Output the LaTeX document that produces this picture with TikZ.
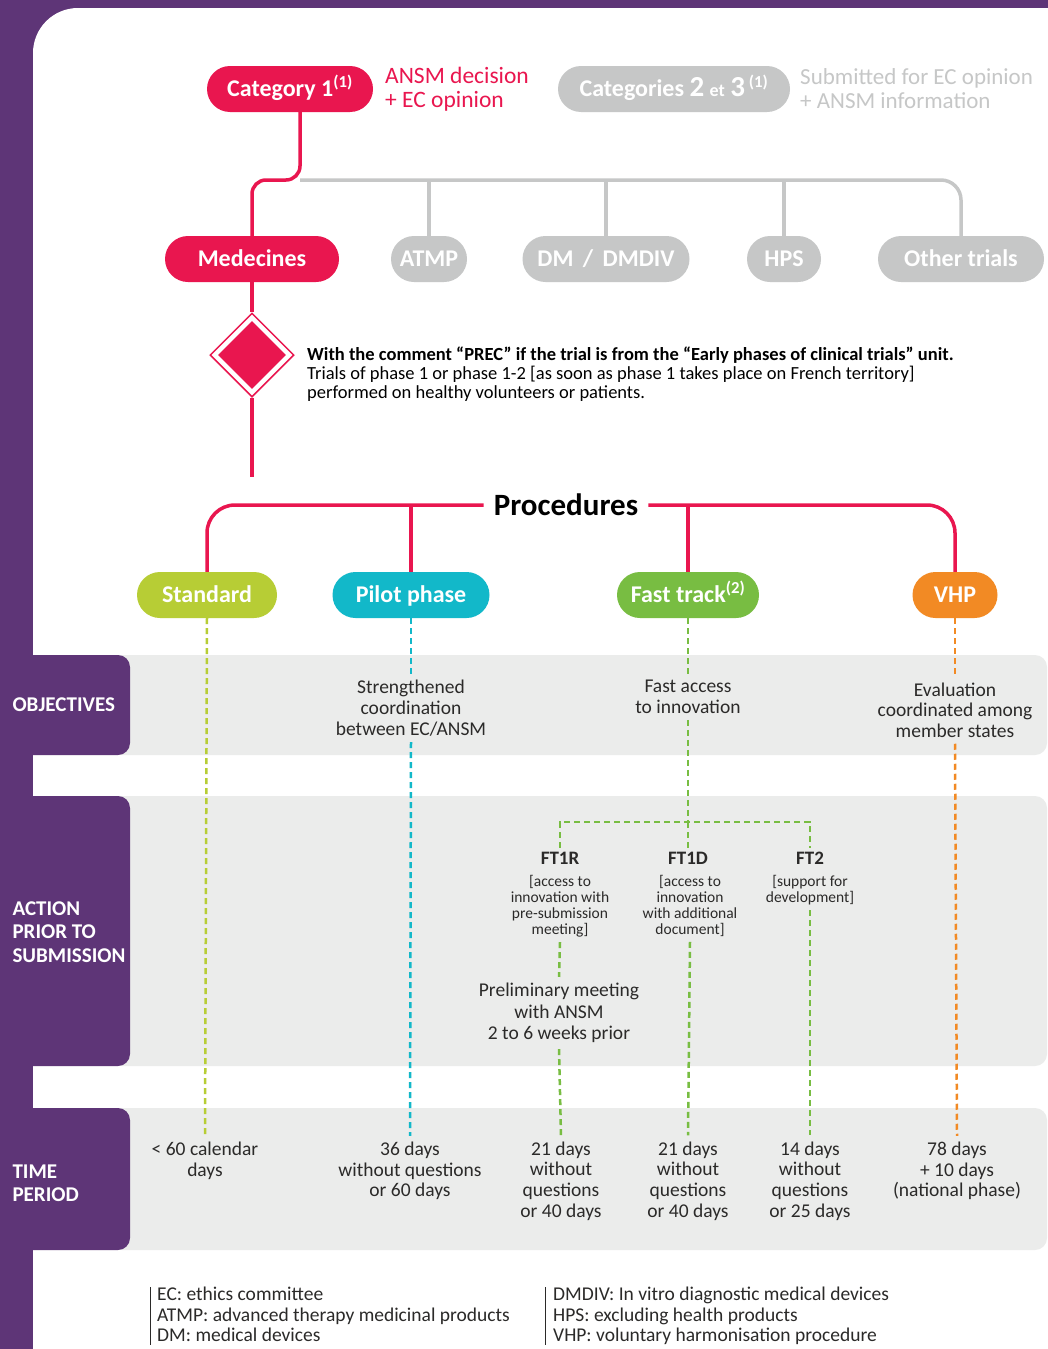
\documentclass[tikz,border=0pt]{standalone}
\usepackage{fontspec}
\setmainfont{Carlito}
\usetikzlibrary{shapes.misc, shapes.geometric}

\definecolor{ansmpurple}{HTML}{5E3577}
\definecolor{ansmred}{HTML}{E9164F}
\definecolor{ansmgrey}{HTML}{C6C7C7}
\definecolor{bandgrey}{HTML}{EBECEB}
\definecolor{stdgreen}{HTML}{B7CD35}
\definecolor{pilotcyan}{HTML}{12B8C9}
\definecolor{fastgreen}{HTML}{78BD42}
\definecolor{vhporange}{HTML}{F28A24}
\definecolor{bodytext}{HTML}{2B2A29}

\tikzset{
  pill/.style={rounded rectangle, minimum height=46pt, inner sep=0pt, text=white,
    text height=19pt, text depth=3.5pt, font=\fontsize{24}{26}\selectfont\bfseries},
  redline/.style={draw=ansmred, line width=3.5pt},
  greyline/.style={draw=ansmgrey, line width=3.5pt},
  dashline/.style={line width=2.5pt, dash pattern=on 6pt off 4pt},
  rowtext/.style={align=center, text=bodytext, font=\fontsize{19.5}{20.7}\selectfont, inner sep=6pt},
  smalltext/.style={align=center, text=bodytext, font=\fontsize{15.5}{16}\selectfont, inner sep=5pt},
  ftlabel/.style={text=bodytext, font=\fontsize{19}{20}\selectfont\bfseries, inner sep=4pt},
  tablabel/.style={anchor=west, align=left, text=white, font=\fontsize{21}{23.5}\selectfont\bfseries},
  legend/.style={anchor=north west, align=left, text=bodytext, font=\fontsize{19.5}{20.5}\selectfont, inner sep=0pt},
}

\begin{document}
\begin{tikzpicture}[x=1pt, y=-1pt]
    \useasboundingbox (0,0) rectangle (1048,1349);

    % Background and row bands
    \fill[ansmpurple] (0,0) rectangle (1048,1349);
    \fill[white] (33,1349) [rounded corners=45] -- (33,8) [sharp corners] -- (1048,8) -- (1048,1349) -- cycle;
    \foreach \top/\bot in {655/755, 796/1066, 1108/1250} {
        \fill[bandgrey, rounded corners=12] (110,\top) rectangle (1047,\bot);
        \fill[ansmpurple, rounded corners=12] (0,\top) rectangle (130,\bot);
    }
    \node[tablabel] (objtab) at (9,705) {OBJECTIVES};
    \node[tablabel] (acttab) at (9,932) {ACTION\\PRIOR TO\\SUBMISSION};
    \node[tablabel] (timetab) at (9,1183) {TIME\\PERIOD};

    % Draw nodes: categories
    \node[pill, fill=ansmred, minimum width=166pt] (cat1) at (290,89) {Category 1\textsuperscript{(1)}};
    \node[anchor=west, align=left, text=ansmred, font=\fontsize{23.5}{24}\selectfont, inner sep=0pt] (cat1note) at (385,89) {ANSM decision\\+ EC opinion};
    \node[pill, fill=ansmgrey, minimum width=232pt] (cat23) at (674,89)
        {Categories {\fontsize{29}{29}\selectfont 2} {\fontsize{18}{18}\selectfont et} {\fontsize{29}{29}\selectfont 3}\,\textsuperscript{(1)}};
    \node[anchor=west, align=left, text=ansmgrey, font=\fontsize{23}{24}\selectfont, inner sep=0pt] (cat23note) at (800,89) {Submitted for EC opinion\\+ ANSM information};

    % Draw nodes: trial types
    \node[pill, fill=ansmred, minimum width=174pt] (med) at (252,259) {Medecines};
    \node[pill, fill=ansmgrey, minimum width=76pt] (atmp) at (429,259) {ATMP};
    \node[pill, fill=ansmgrey, minimum width=167pt] (dm) at (606,259) {DM\, /\, DMDIV};
    \node[pill, fill=ansmgrey, minimum width=74pt] (hps) at (784,259) {HPS};
    \node[pill, fill=ansmgrey, minimum width=166pt] (other) at (961,259) {Other trials};

    % PREC diamond
    \node[diamond, draw=ansmred, line width=1.5pt, fill=white, minimum width=84pt, minimum height=84pt, inner sep=0pt] (prec) at (252,355) {};
    \node[diamond, fill=ansmred, minimum width=68pt, minimum height=68pt, inner sep=0pt] (preccore) at (prec) {};
    \node[anchor=west, align=left, text=black, font=\fontsize{18.5}{19}\selectfont, inner sep=0pt] (precnote) at (307,374)
        {\textbf{With the comment “PREC” if the trial is from the “Early phases of clinical trials” unit.}\\
         Trials of phase 1 or phase 1-2 [as soon as phase 1 takes place on French territory]\\
         performed on healthy volunteers or patients.};
    \coordinate (stub) at (252,477);

    % Draw nodes: procedures
    \node[font=\fontsize{31}{32}\selectfont\bfseries, text=black, inner xsep=10pt] (proc) at (566,505) {Procedures};
    \node[pill, fill=stdgreen, minimum width=140pt] (std) at (207,595) {Standard};
    \node[pill, fill=pilotcyan, minimum width=157pt] (pilot) at (411,595) {Pilot phase};
    \node[pill, fill=fastgreen, minimum width=142pt] (fast) at (688,595) {Fast track\textsuperscript{(2)}};
    \node[pill, fill=vhporange, minimum width=85pt] (vhp) at (955,595) {VHP};

    % Objectives
    \node[rowtext] (pilotobj) at (411,708) {Strengthened\\coordination\\between EC/ANSM};
    \node[rowtext] (fastobj) at (688,697) {Fast access\\to innovation};
    \node[rowtext] (vhpobj) at (955,710) {Evaluation\\coordinated among\\member states};

    % Action prior to submission
    \coordinate (split) at (688,822);
    \node[ftlabel] (ft1r) at (560,858) {FT1R};
    \node[smalltext] (ft1rsub) at (560,906) {[access to\\innovation with\\pre-submission\\meeting]};
    \node[ftlabel] (ft1d) at (688,858) {FT1D};
    \node[smalltext] (ft1dsub) at (690,906) {[access to\\innovation\\with additional\\document]};
    \node[ftlabel] (ft2) at (810,858) {FT2};
    \node[smalltext] (ft2sub) at (810,890) {[support for\\development]};
    \node[rowtext, font=\fontsize{19.5}{21.5}\selectfont] (prelim) at (559,1013) {Preliminary meeting\\with ANSM\\2 to 6 weeks prior};

    % Time period
    \node[rowtext] (stdtime) at (205,1161) {< 60 calendar\\days};
    \node[rowtext] (pilottime) at (410,1171) {36 days\\without questions\\or 60 days};
    \node[rowtext] (ft1rtime) at (561,1181) {21 days\\without\\questions\\or 40 days};
    \node[rowtext] (ft1dtime) at (688,1181) {21 days\\without\\questions\\or 40 days};
    \node[rowtext] (ft2time) at (810,1181) {14 days\\without\\questions\\or 25 days};
    \node[rowtext] (vhptime) at (957,1171) {78 days\\+ 10 days\\(national phase)};

    % Draw connections: categories
    \coordinate (hub) at (300,180);
    \draw[greyline, rounded corners=20] (hub) -| (other.north);
    \draw[greyline] (atmp.north) -- (atmp.north |- hub);
    \draw[greyline] (dm.north) -- (dm.north |- hub);
    \draw[greyline] (hps.north) -- (hps.north |- hub);
    \draw[redline, rounded corners=14] (hub |- cat1.south) -- (hub) -- (med.north |- hub) -- (med.north);
    \draw[redline] (med.south) -- (prec.north);
    \draw[redline] (prec.south) -- (stub);

    % Draw connections: procedures
    \draw[redline, rounded corners=28] (std.north) |- (proc.west);
    \draw[redline, rounded corners=28] (proc.east) -| (vhp.north);
    \draw[redline] (pilot.north) -- (pilot.north |- proc.east);
    \draw[redline] (fast.north) -- (fast.north |- proc.east);

    % Dashed leads
    \draw[dashline, draw=stdgreen] (std.south) -- (stdtime.north);
    \draw[dashline, draw=pilotcyan] (pilot.south) -- (pilotobj.north);
    \draw[dashline, draw=pilotcyan] (pilotobj.south) -- (pilottime.north);
    \draw[dashline, draw=vhporange] (vhp.south) -- (vhpobj.north);
    \draw[dashline, draw=vhporange] (vhpobj.south) -- (vhptime.north);
    \draw[dashline, draw=fastgreen] (fast.south) -- (fastobj.north);
    \draw[dashline, draw=fastgreen] (fastobj.south) -- (split);
    \draw[dashline, draw=fastgreen] (ft1r.north) |- (split) -| (ft2.north);
    \draw[dashline, draw=fastgreen] (split) -- (ft1d.north);
    \draw[dashline, draw=fastgreen] (ft1rsub.south) -- (prelim.north);
    \draw[dashline, draw=fastgreen] (prelim.south) -- (ft1rtime.north);
    \draw[dashline, draw=fastgreen] (ft1dsub.south) -- (ft1dtime.north);
    \draw[dashline, draw=fastgreen] (ft2sub.south) -- (ft2time.north);

    % Legend
    \draw[bodytext, line width=1pt] (150,1287) -- (150,1345);
    \node[legend] (legleft) at (157,1287) {EC: ethics committee\\ATMP: advanced therapy medicinal products\\DM: medical devices};
    \draw[bodytext, line width=1pt] (545,1287) -- (545,1345);
    \node[legend] (legright) at (553,1287) {DMDIV: In vitro diagnostic medical devices\\HPS: excluding health products\\VHP: voluntary harmonisation procedure};
\end{tikzpicture}
\end{document}
